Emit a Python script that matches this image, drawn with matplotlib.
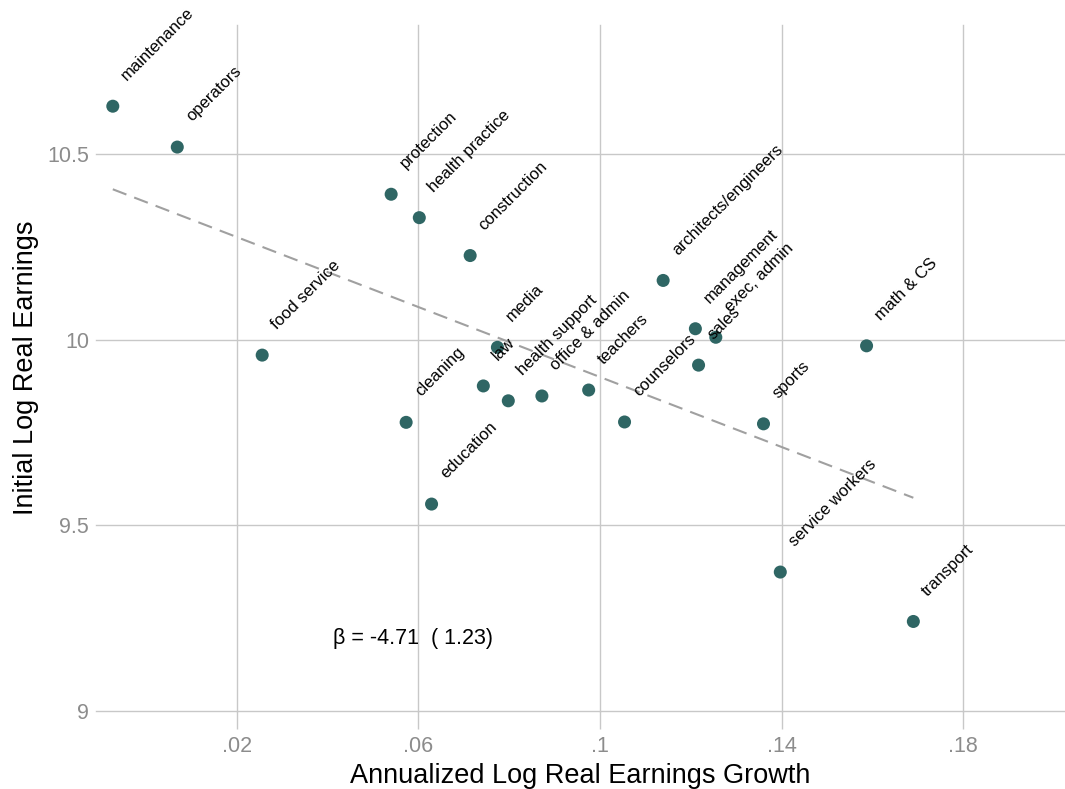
import matplotlib
matplotlib.use("Agg")
import matplotlib.pyplot as plt
import numpy as np

plt.rcParams["font.family"] = ["Liberation Sans", "DejaVu Sans"]

occupations = ["maintenance", "operators", "food service", "protection", "health practice",
               "construction", "architects/engineers", "management", "exec, admin", "sales",
               "counselors", "teachers", "office & admin", "health support", "law", "media",
               "cleaning", "education", "sports", "math & CS", "service workers", "transport"]
growth = [-0.0073, 0.0069, 0.0256, 0.0540, 0.0602, 0.0714, 0.1139, 0.1210, 0.1255, 0.1217,
          0.1054, 0.0975, 0.0872, 0.0798, 0.0743, 0.0774, 0.0573, 0.0629, 0.1360, 0.1587,
          0.1397, 0.1690]
initial = [10.628, 10.518, 9.958, 10.391, 10.328, 10.226, 10.159, 10.029, 10.006, 9.931,
           9.778, 9.864, 9.848, 9.835, 9.875, 9.979, 9.777, 9.557, 9.773, 9.983,
           9.374, 9.241]

beta = -4.71
beta_se = 1.23
intercept = 10.370

xticks = [0.02, 0.06, 0.10, 0.14, 0.18]
xticklabels = [".02", ".06", ".1", ".14", ".18"]
yticks = [9, 9.5, 10, 10.5]
yticklabels = ["9", "9.5", "10", "10.5"]

grid_col = "#c8c8c8"
tick_col = "#8c8c8c"
dot_col = "#2f6664"

fig = plt.figure(figsize=(10.65, 7.89), dpi=100)
ax = fig.add_axes([96 / 1065, 1 - 711 / 789, 1 - 96 / 1065, (711 - 25) / 789])

ax.set_xlim(-0.011, 0.2024)
ax.set_ylim(9.0, 10.8466)

for s in ax.spines.values():
    s.set_visible(False)

ax.set_xticks(xticks)
ax.set_xticklabels(xticklabels)
ax.set_yticks(yticks)
ax.set_yticklabels(yticklabels)
ax.tick_params(axis="x", length=13, width=1.0, color=grid_col, pad=5, labelsize=15.5, labelcolor=tick_col)
ax.tick_params(axis="y", length=0, pad=5, labelsize=15.5, labelcolor=tick_col)
ax.grid(True, color=grid_col, linewidth=1.0)
ax.set_axisbelow(True)
for gl in ax.get_ygridlines() + ax.get_xgridlines():
    gl.set_clip_on(False)

# fitted line across the range of the data
xs = np.array([min(growth), max(growth)])
ax.plot(xs, intercept + beta * xs, color="#a0a0a0", linewidth=1.5, dashes=(7, 4), zorder=2)

ax.scatter(growth, initial, s=88, color=dot_col, edgecolors="none", zorder=3)

for name, gx, iy in zip(occupations, growth, initial):
    ax.annotate(name, xy=(gx, iy), xytext=(10.5, 18), textcoords="offset points",
                rotation=45, rotation_mode="anchor", ha="left", va="baseline",
                fontsize=12, color="black", annotation_clip=False, zorder=4)

ax.text(0.0412, 9.1965, f"\u03b2 = {beta:.2f}  ( {beta_se:.2f})", fontsize=15.5,
        ha="left", va="center", color="black")

ax.set_xlabel("Annualized Log Real Earnings Growth", fontsize=19.5, labelpad=4)
ax.set_ylabel("Initial Log Real Earnings", fontsize=19.5, labelpad=6)

fig.savefig("out.png", dpi=100)
